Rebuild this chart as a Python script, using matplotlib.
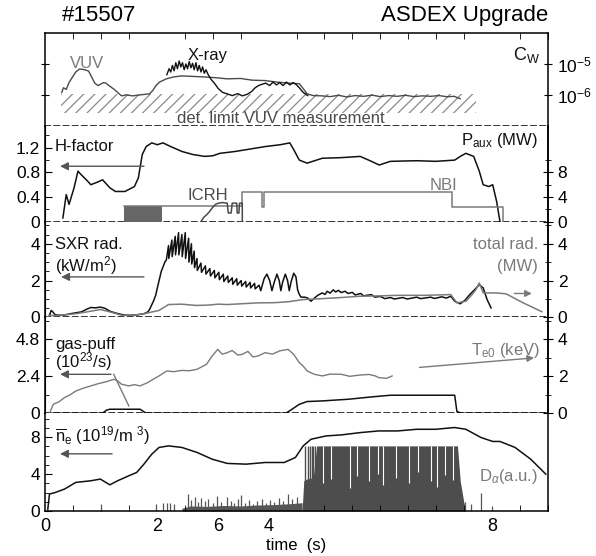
import matplotlib
matplotlib.use("Agg")
import matplotlib.pyplot as plt
from matplotlib.ticker import MultipleLocator, FixedLocator, NullFormatter, NullLocator

plt.rcParams['font.family'] = ['Liberation Sans', 'DejaVu Sans']
plt.rcParams['mathtext.fontset'] = 'custom'
plt.rcParams['mathtext.rm'] = 'Liberation Sans'
plt.rcParams['mathtext.it'] = 'Liberation Sans:italic'
plt.rcParams['hatch.linewidth'] = 0.9

BLACK = '#111111'
GREY = '#7a7a7a'
DARK = '#4a4a4a'
TXT = 12      # annotation text size
TICK = 12.5   # tick label size

# ---- panel 1: tungsten concentration (log) ----
vuv_t = [0.30, 0.33, 0.38, 0.43, 0.48, 0.55, 0.62, 0.70, 0.78, 0.84, 0.89, 0.95, 1.00, 1.05,
         1.09, 1.16, 1.23, 1.30, 1.37, 1.45, 1.57, 1.70, 1.87, 1.93, 1.98, 2.05, 2.17, 2.30,
         2.44, 2.60, 2.85, 3.05, 3.26, 3.50, 3.70, 3.94, 4.15, 4.35, 4.55, 4.62, 4.69, 4.80,
         4.96, 5.10, 5.25, 5.40, 5.55, 5.70, 5.85, 6.00, 6.15, 6.30, 6.45, 6.60, 6.75, 6.90,
         7.05, 7.20, 7.32, 7.43]
vuv_c = [1.2e-6, 1.7e-6, 1.5e-6, 2.5e-6, 3.5e-6, 5.5e-6, 6.9e-6, 6.6e-6, 5.9e-6, 3.6e-6,
         2.4e-6, 2.0e-6, 2.25e-6, 2.5e-6, 2.4e-6, 1.9e-6, 1.55e-6, 1.2e-6, 0.93e-6, 1.0e-6,
         0.93e-6, 1.0e-6, 1.08e-6, 1.4e-6, 1.95e-6, 2.6e-6, 3.3e-6, 3.8e-6, 4.1e-6, 4.0e-6,
         3.8e-6, 3.6e-6, 3.3e-6, 3.4e-6, 3.0e-6, 2.9e-6, 2.6e-6, 2.4e-6, 2.3e-6, 1.6e-6,
         1.08e-6, 0.95e-6, 0.93e-6, 0.88e-6, 0.97e-6, 0.86e-6, 0.95e-6, 0.9e-6, 0.98e-6,
         0.88e-6, 0.95e-6, 0.9e-6, 0.97e-6, 0.88e-6, 0.93e-6, 0.9e-6, 0.95e-6, 0.87e-6,
         0.9e-6, 0.75e-6]
xray_t = [2.18, 2.22, 2.25, 2.28, 2.31, 2.34, 2.37, 2.40, 2.43, 2.46, 2.49, 2.52, 2.55, 2.58,
          2.61, 2.64, 2.67, 2.70, 2.73, 2.76, 2.79, 2.82, 2.85, 2.88, 2.92, 2.97, 3.03, 3.10,
          3.18, 3.26, 3.35, 3.45, 3.53, 3.62, 3.70, 3.76, 3.82, 3.88, 3.95, 4.02, 4.08, 4.14,
          4.20, 4.26, 4.32, 4.38, 4.44, 4.49, 4.55, 4.62, 4.70]
xray_c = [4.5e-6, 7e-6, 5.5e-6, 9e-6, 6e-6, 1.1e-5, 7e-6, 1.25e-5, 8e-6, 1.1e-5, 6.5e-6,
          1.0e-5, 7e-6, 1.2e-5, 7.5e-6, 1.05e-5, 6.5e-6, 1.1e-5, 6e-6, 9e-6, 5.5e-6, 8e-6,
          5e-6, 6.5e-6, 4.5e-6, 3.2e-6, 2.4e-6, 1.6e-6, 1.2e-6, 1.08e-6, 0.95e-6, 1.1e-6,
          0.93e-6, 1.05e-6, 1.3e-6, 1.7e-6, 2.0e-6, 2.2e-6, 2.4e-6, 2.0e-6, 2.6e-6, 2.1e-6,
          2.5e-6, 2.0e-6, 2.6e-6, 2.1e-6, 2.5e-6, 2.2e-6, 1.7e-6, 1.2e-6, 0.95e-6]
det_limit_t = [0.28, 7.72]
det_limit_lo = [2.6e-7, 2.6e-7]
det_limit_hi = [1.05e-6, 1.05e-6]

# ---- panel 2: H-factor and heating power ----
hf_t = [0.32, 0.38, 0.43, 0.52, 0.59, 0.65, 0.74, 0.82, 0.96, 1.03, 1.16, 1.26, 1.43, 1.60,
        1.67, 1.74, 1.81, 1.91, 2.01, 2.11, 2.25, 2.45, 2.65, 2.86, 3.0, 3.13, 3.4, 3.67,
        3.94, 4.21, 4.38, 4.45, 4.55, 4.69, 4.96, 5.3, 5.64, 5.84, 5.98, 6.18, 6.65, 6.99,
        7.33, 7.43, 7.53, 7.67, 7.77, 7.84, 7.94, 8.01, 8.08, 8.14]
hf = [0.06, 0.44, 0.28, 0.55, 0.82, 0.76, 0.68, 0.6, 0.65, 0.68, 0.55, 0.49, 0.49, 0.57,
      0.71, 1.09, 1.22, 1.28, 1.25, 1.28, 1.22, 1.14, 1.09, 1.06, 1.07, 1.11, 1.14, 1.18,
      1.22, 1.25, 1.28, 1.17, 1.0, 0.95, 1.03, 1.04, 1.06, 0.98, 0.92, 0.98, 0.99, 0.98,
      1.0, 1.06, 1.11, 1.06, 0.82, 0.6, 0.57, 0.6, 0.33, 0.0]
nbi_t = [1.41, 3.53, 3.53, 3.60, 3.60, 3.89, 3.89, 3.91, 3.91, 7.29, 7.29, 8.20, 8.20]
nbi_p = [2.55, 2.55, 4.85, 4.85, 4.85, 4.85, 2.45, 2.45, 4.85, 4.85, 2.45, 2.45, 0.0]
icrh_block_t = [1.42, 2.09]
icrh_block_p = [2.55, 2.55]
icrh_t = [2.79, 2.84, 2.89, 2.94, 2.99, 3.05, 3.10, 3.18, 3.26, 3.28, 3.33, 3.35, 3.43,
          3.44, 3.47, 3.48, 3.53, 3.53]
icrh_p = [0.0, 0.7, 1.1, 1.6, 2.2, 2.8, 3.0, 3.1, 3.0, 1.4, 1.4, 3.0, 3.0, 1.4, 1.4, 3.0,
          3.0, 0.0]

# ---- panel 3: SXR and total radiation ----
sxr_t = [0.05, 0.08, 0.11, 0.14, 0.18, 0.25, 0.35, 0.45, 0.55, 0.65, 0.75, 0.82, 0.90, 0.99,
         1.07, 1.16, 1.25, 1.37, 1.47, 1.57, 1.67, 1.77, 1.84, 1.87, 1.94, 1.98, 2.01, 2.05,
         2.08, 2.12, 2.15, 2.17,
         2.21, 2.215, 2.27, 2.275, 2.33, 2.335, 2.39, 2.395, 2.45, 2.455, 2.51, 2.515, 2.57,
         2.575, 2.62, 2.625, 2.67, 2.675, 2.72, 2.725,
         2.79, 2.80, 2.87, 2.88, 2.95, 2.96, 3.03, 3.04, 3.11, 3.12, 3.19, 3.20, 3.27, 3.28,
         3.35, 3.36, 3.43, 3.44, 3.51, 3.52, 3.59, 3.60, 3.67, 3.68, 3.75, 3.76, 3.83, 3.86,
         3.92, 3.97, 4.02, 4.06, 4.10, 4.15, 4.19, 4.22, 4.25, 4.30, 4.34, 4.37, 4.40, 4.45,
         4.49, 4.52, 4.55, 4.58, 4.65, 4.70, 4.76, 4.82, 4.88, 4.96, 5.01, 5.05, 5.10, 5.16,
         5.20, 5.25, 5.30, 5.37, 5.42, 5.50, 5.55, 5.65, 5.70, 5.84, 5.90, 6.00, 6.08, 6.18,
         6.25, 6.40, 6.48, 6.65, 6.72, 6.90, 6.97, 7.10, 7.18, 7.26, 7.33, 7.43, 7.52, 7.60,
         7.70, 7.77, 7.84, 7.91, 7.98]
sxr = [0.0, 0.1, 0.38, 0.3, 0.15, 0.12, 0.13, 0.2, 0.25, 0.3, 0.45, 0.54, 0.52, 0.56, 0.5,
       0.34, 0.25, 0.16, 0.12, 0.12, 0.15, 0.2, 0.3, 0.43, 0.88, 1.2, 1.6, 2.1, 2.5, 2.8,
       3.04, 3.1,
       3.9, 3.2, 4.2, 3.3, 4.4, 3.4, 4.6, 3.4, 4.5, 3.3, 4.6, 3.2, 4.3, 3.0, 4.0, 2.9, 3.6,
       2.7, 3.2, 2.55,
       2.95, 2.45, 2.8, 2.35, 2.65, 2.25, 2.55, 2.15, 2.45, 2.05, 2.35, 1.95, 2.25, 1.9, 2.15,
       1.8, 2.1, 1.75, 2.0, 1.7, 1.95, 1.65, 1.9, 1.6, 1.85, 1.55, 1.75, 1.45,
       2.1, 2.35, 2.0, 1.45, 1.9, 2.35, 2.0, 1.45, 1.9, 2.35, 2.0, 1.45, 1.9, 2.4,
       2.2, 1.5, 1.25, 1.1, 1.1, 1.05, 0.88, 1.05, 1.2, 1.33, 1.25, 1.42, 1.32, 1.5,
       1.38, 1.47, 1.35, 1.42, 1.3, 1.36, 1.22, 1.3, 1.17, 1.24, 1.1, 1.14, 1.02, 1.08,
       1.0, 1.08, 1.0, 1.1, 1.02, 1.1, 1.03, 1.12, 1.05, 1.15, 0.88, 0.74, 0.95, 1.24,
       1.55, 1.78, 1.6, 0.97, 0.52]
trad_t = [0.05, 0.10, 0.20, 0.35, 0.55, 0.75, 0.99, 1.16, 1.37, 1.57, 1.77, 2.04, 2.21, 2.45,
          2.70, 2.92, 3.10, 3.26, 3.50, 3.81, 4.10, 4.35, 4.62, 4.96, 5.30, 5.64, 6.00, 6.31,
          6.80, 7.26, 7.37, 7.53, 7.63, 7.71, 7.77, 7.84, 8.07, 8.25, 8.55, 8.89]
trad = [0.05, 0.12, 0.1, 0.14, 0.2, 0.3, 0.43, 0.3, 0.12, 0.12, 0.2, 0.38, 0.7, 0.72, 0.65,
        0.67, 0.72, 0.7, 0.74, 0.79, 0.8, 0.85, 0.97, 1.02, 1.08, 1.15, 1.17, 1.2, 1.2, 1.24,
        0.79, 0.88, 1.2, 1.51, 1.87, 1.33, 1.33, 1.28, 0.8, 0.31]

# ---- panel 4: gas puff and central Te ----
gas_t = [0.08, 1.03, 1.10, 1.16, 1.70, 1.81, 4.31, 4.42, 4.55, 4.69, 4.96, 5.43, 5.84, 6.18,
         7.33, 7.37, 7.45, 9.0]
gas = [0.0, 0.0, 0.2, 0.26, 0.26, 0.0, 0.0, 0.26, 0.58, 0.76, 0.8, 0.91, 1.06, 1.17, 1.17,
       0.11, 0.0, 0.0]
te_t = [0.08, 0.15, 0.25, 0.35, 0.45, 0.55, 0.68, 0.82, 0.95, 1.10, 1.23, 1.30, 1.37, 1.50,
        1.60, 1.70, 1.84, 1.94, 2.04, 2.18, 2.30, 2.45, 2.58, 2.72, 2.89, 2.99, 3.09, 3.17,
        3.26, 3.35, 3.45, 3.53, 3.63, 3.72, 3.81, 3.94, 4.07, 4.20, 4.35, 4.45, 4.55, 4.62,
        4.69, 4.82, 4.96, 5.10, 5.30, 5.45, 5.64, 5.80, 5.91, 5.97, 6.11, 6.21]
te = [0.0, 0.49, 0.62, 0.85, 1.0, 1.2, 1.35, 1.48, 1.6, 1.71, 1.84, 1.75, 1.57, 1.48, 1.55,
      1.48, 1.66, 1.85, 2.02, 2.29, 2.25, 2.32, 2.3, 2.38, 2.65, 3.1, 3.46, 3.2, 3.28, 3.4,
      3.15, 3.19, 3.35, 3.05, 3.1, 3.28, 3.2, 3.38, 3.46, 3.19, 2.74, 2.55, 2.29, 2.11, 2.02,
      2.12, 2.11, 2.0, 2.07, 2.1, 2.02, 1.93, 1.89, 2.02]

# ---- panel 5: line density and D-alpha ----
ne_t = [0.05, 0.08, 0.18, 0.35, 0.55, 0.82, 0.99, 1.16, 1.30, 1.50, 1.64, 1.77, 1.91, 2.04,
        2.21, 2.45, 2.72, 2.99, 3.26, 3.60, 3.94, 4.28, 4.48, 4.62, 4.76, 5.03, 5.30, 5.64,
        5.97, 6.31, 6.65, 6.99, 7.33, 7.53, 7.80, 8.01, 8.14, 8.41, 8.69, 8.96]
ne = [0.2, 1.84, 2.0, 2.38, 3.1, 3.28, 3.46, 2.84, 3.28, 3.82, 4.18, 5.08, 6.16, 6.89, 7.06,
      6.89, 6.35, 5.62, 5.16, 5.08, 5.26, 5.26, 5.8, 7.06, 7.78, 8.14, 8.25, 8.5, 8.68, 8.68,
      8.86, 8.86, 9.05, 8.86, 7.97, 7.54, 7.54, 6.89, 5.62, 4.0]
da_spike_t = [1.0, 1.99, 2.12, 2.18, 2.24, 2.30, 2.55, 2.62, 2.68, 2.74, 2.80, 2.86, 2.92,
              3.0, 3.08, 3.15, 3.25, 3.32, 3.38, 3.45, 3.50, 3.58, 3.65, 3.72, 3.80, 3.88,
              3.95, 4.02, 4.10, 4.18, 4.25, 4.35, 4.42, 4.50, 7.52, 7.63, 7.80, 8.00]
da_spike_h = [0.75, 0.75, 0.9, 0.85, 0.9, 0.8, 1.85, 1.2, 1.5, 1.0, 1.4, 1.1, 1.3, 0.9, 1.6,
              1.0, 1.55, 1.1, 0.9, 1.3, 1.7, 0.9, 1.2, 0.8, 1.1, 1.3, 0.9, 1.2, 1.0, 1.4, 1.1,
              1.84, 1.3, 1.5, 1.0, 0.8, 1.9, 0.5]
da_grass_t = [2.45, 2.6, 2.9, 3.2, 3.5, 3.8, 4.1, 4.4, 4.6]
da_grass_h = [0.3, 0.55, 0.5, 0.6, 0.55, 0.65, 0.7, 0.8, 0.9]
da_elm_t = [4.60, 4.63, 4.70, 4.80, 4.86, 7.38, 7.43, 7.47, 7.52]
da_elm_h = [0.0, 3.3, 3.5, 3.6, 7.06, 7.06, 3.2, 1.8, 0.0]
da_burst_t = [4.66, 4.70, 4.74, 4.77, 4.80, 4.83]
da_gap_t = [4.98, 5.12, 5.45, 5.58, 5.80, 5.95, 6.05, 6.28, 6.52, 6.68, 6.90, 7.02, 7.15, 7.30]
da_gap_lo = [3.0, 3.5, 2.5, 3.8, 3.2, 4.0, 2.8, 3.6, 3.0, 4.2, 3.3, 2.6, 3.9, 3.4]
da_top = 7.06

xtick_pos = [0, 2, 3.1, 4, 8]
xtick_lab = ['0', '2', '6', '4', '8']

fig, axes = plt.subplots(5, 1, figsize=(5.96, 5.56), dpi=100, sharex=True,
                         gridspec_kw={'height_ratios': [93, 96, 96, 96, 98], 'hspace': 0})
fig.subplots_adjust(left=0.0755, right=0.9195, top=0.9406, bottom=0.0809)
ax1, ax2, ax3, ax4, ax5 = axes
DASH = (0, (3.5, 2.5))


def frame(ax, first=False, last=False):
    ax.tick_params(axis='both', which='both', direction='in', labelsize=TICK)
    ax.tick_params(axis='y', which='major', length=5)
    ax.tick_params(axis='y', which='minor', length=3)
    ax.tick_params(axis='x', which='both', top=first, bottom=last, labelbottom=last)
    if not first:
        ax.spines['top'].set_visible(False)
    if not last:
        ax.spines['bottom'].set_linestyle(DASH)
    for s in ax.spines.values():
        s.set_linewidth(1.1)


def twin(ax, ylim):
    tw = ax.twinx()
    tw.set_ylim(*ylim)
    tw.spines['top'].set_visible(False)
    tw.spines['bottom'].set_visible(False)
    tw.spines['right'].set_linewidth(1.1)
    tw.tick_params(axis='y', which='both', direction='inout', labelsize=TICK)
    tw.tick_params(axis='y', which='major', length=7)
    tw.tick_params(axis='y', which='minor', length=4)
    return tw


ax1.set_xlim(0, 9)

# panel 1
ax1.set_yscale('log')
ax1.set_ylim(1e-7, 1e-4)
frame(ax1, first=True)
ax1.yaxis.set_major_locator(FixedLocator([1e-6, 1e-5]))
ax1.yaxis.set_minor_locator(NullLocator())
ax1.yaxis.set_major_formatter(NullFormatter())
ax1.tick_params(axis='y', right=True, labelright=True, direction='inout', length=6)
ax1.set_yticks([1e-6, 1e-5], [r'10$^{-6}$', r'10$^{-5}$'])
ax1.tick_params(axis='y', labelleft=False, labelsize=TICK)
ax1.fill_between(det_limit_t, det_limit_lo, det_limit_hi, facecolor='none',
                 edgecolor='#8a8a8a', hatch='///', linewidth=0)
ax1.plot(vuv_t, vuv_c, color=DARK, lw=1.0)
ax1.plot(xray_t, xray_c, color=BLACK, lw=1.0)
ax1.text(0.45, 7.5e-6, 'VUV', color=GREY, fontsize=TXT)
ax1.text(2.55, 1.35e-5, 'X-ray', color=BLACK, fontsize=TXT)
ax1.text(8.85, 1.35e-5, r'C$_{\rm W}$', color=BLACK, fontsize=13, ha='right')
ax1.text(4.22, 1.2e-7, 'det. limit VUV measurement', color=DARK, fontsize=TXT, ha='center')

# panel 2
ax2.set_ylim(0, 1.557)
frame(ax2)
ax2.set_yticks([0, 0.4, 0.8, 1.2], ['0', '0.4', '0.8', '1.2'])
ax2.yaxis.set_minor_locator(MultipleLocator(0.2))
ax2.plot(hf_t, hf, color=BLACK, lw=1.1)
tw2 = twin(ax2, (0, 15.57))
tw2.set_yticks([0, 4, 8], ['0', '4', '8'])
tw2.yaxis.set_minor_locator(FixedLocator([2, 6, 10]))
tw2.fill_between(icrh_block_t, 0, icrh_block_p, color='#666666', linewidth=0)
tw2.plot(nbi_t, nbi_p, color=GREY, lw=1.1)
tw2.plot(icrh_t, icrh_p, color=DARK, lw=1.1)
ax2.text(0.18, 1.15, 'H-factor', color=BLACK, fontsize=TXT)
ax2.annotate('', xy=(0.22, 0.9), xytext=(1.82, 0.9),
             arrowprops=dict(arrowstyle='-|>', color='#555555', lw=1.0, mutation_scale=12))
tw2.text(8.82, 12.4, r'P$_{\rm aux}$ (MW)', color=BLACK, fontsize=TXT, ha='right')
tw2.text(2.92, 3.5, 'ICRH', color=DARK, fontsize=TXT, ha='center')
tw2.text(7.13, 5.2, 'NBI', color=GREY, fontsize=TXT, ha='center')

# panel 3
ax3.set_ylim(0, 5.2)
frame(ax3)
ax3.set_yticks([0, 2, 4], ['0', '2', '4'])
ax3.yaxis.set_minor_locator(MultipleLocator(0.5))
tw3 = twin(ax3, (0, 5.2))
tw3.set_yticks([0, 2, 4], ['0', '2', '4'])
tw3.yaxis.set_minor_locator(MultipleLocator(1))
tw3.plot(trad_t, trad, color=GREY, lw=1.1)
ax3.plot(sxr_t, sxr, color=BLACK, lw=1.1)
ax3.text(0.18, 3.7, 'SXR rad.', color=BLACK, fontsize=TXT)
ax3.text(0.18, 2.5, r'(kW/m$^{2}$)', color=BLACK, fontsize=TXT)
ax3.annotate('', xy=(0.24, 2.2), xytext=(1.82, 2.2),
             arrowprops=dict(arrowstyle='-|>', color='#555555', lw=1.0, mutation_scale=12))
tw3.text(8.82, 3.7, 'total rad.', color=GREY, fontsize=TXT, ha='right')
tw3.text(8.82, 2.5, '(MW)', color=GREY, fontsize=TXT, ha='right')
tw3.annotate('', xy=(8.76, 1.3), xytext=(8.35, 1.3),
             arrowprops=dict(arrowstyle='-|>', color=GREY, lw=1.0, mutation_scale=10))

# panel 4
ax4.set_ylim(0, 6.23)
frame(ax4)
ax4.set_yticks([0, 2.4, 4.8], ['0', '2.4', '4.8'])
ax4.yaxis.set_minor_locator(MultipleLocator(1.2))
tw4 = twin(ax4, (0, 5.19))
tw4.set_yticks([0, 2, 4], ['0', '2', '4'])
tw4.yaxis.set_minor_locator(MultipleLocator(1))
tw4.plot(te_t, te, color=GREY, lw=1.0)
ax4.plot(gas_t, gas, color=BLACK, lw=1.1)
ax4.text(0.18, 4.2, 'gas-puff', color=BLACK, fontsize=TXT)
ax4.text(0.18, 2.95, r'(10$^{23}$/s)', color=BLACK, fontsize=TXT)
ax4.annotate('', xy=(0.22, 2.53), xytext=(1.23, 2.53),
             arrowprops=dict(arrowstyle='-|>', color='#555555', lw=1.0, mutation_scale=12))
ax4.plot([1.23, 1.5], [2.53, 0.47], color=GREY, lw=1.0)
tw4.text(8.85, 3.15, r'T$_{\rm e0}$ (keV)', color=GREY, fontsize=TXT, ha='right')
tw4.annotate('', xy=(8.8, 3.01), xytext=(6.65, 2.47),
             arrowprops=dict(arrowstyle='-|>', color=GREY, lw=1.0, mutation_scale=10))

# panel 5
ax5.set_ylim(0, 10.6)
frame(ax5, last=True)
ax5.set_yticks([0, 4, 8], ['0', '4', '8'])
ax5.yaxis.set_minor_locator(MultipleLocator(1))
ax5.fill_between(da_grass_t, 0, da_grass_h, color='#555555', linewidth=0)
ax5.vlines(da_spike_t, 0, da_spike_h, color='#555555', lw=0.9)
ax5.fill_between(da_elm_t, 0, da_elm_h, color='#4d4d4d', linewidth=0)
ax5.vlines(da_burst_t, 0, da_top, color='#4d4d4d', lw=1.0)
ax5.vlines(da_gap_t, da_gap_lo, da_top, color='white', lw=0.8)
ax5.plot(ne_t, ne, color=BLACK, lw=1.1)
ax5.text(0.18, 7.5, r'$\overline{\rm n}_{\rm e}$ (10$^{19}$/m $^{3}$)', color=BLACK, fontsize=TXT)
ax5.annotate('', xy=(0.22, 6.2), xytext=(1.25, 6.2),
             arrowprops=dict(arrowstyle='-|>', color='#555555', lw=1.0, mutation_scale=12))
ax5.text(8.82, 3.3, r'D$_{\alpha}$(a.u.)', color=GREY, fontsize=TXT, ha='right')
ax5.set_xticks(xtick_pos, xtick_lab)
ax5.xaxis.set_minor_locator(MultipleLocator(0.5))
ax5.tick_params(axis='x', which='major', length=0, labelsize=13, pad=5)
ax5.tick_params(axis='x', which='minor', length=4)
ax1.tick_params(axis='x', which='minor', length=4)
ax1.tick_params(axis='x', which='major', length=0)
ax5.set_xlabel('time  (s)', fontsize=TXT, labelpad=2)

fig.text(0.104, 0.972, '#15507', fontsize=16, ha='left', va='center')
fig.text(0.9195, 0.972, 'ASDEX Upgrade', fontsize=16, ha='right', va='center')

fig.savefig('out.png', dpi=100)
